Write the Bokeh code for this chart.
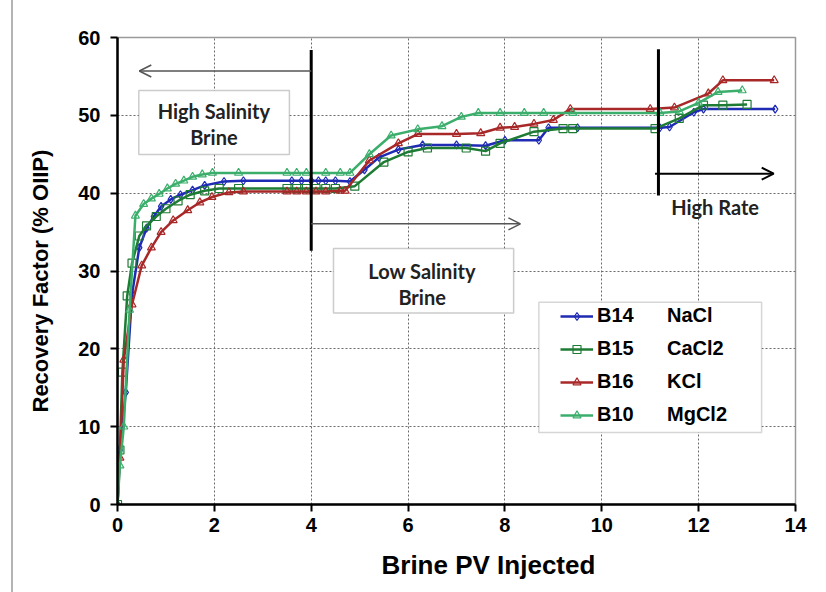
from bokeh.plotting import figure
from bokeh.models import (Range1d, Legend, LegendItem, Label, Arrow, OpenHead,
                          BoxAnnotation, FixedTicker, Title)
from bokeh.embed import file_html
from bokeh.resources import INLINE

# ---- data ----
x_ticks = [0, 2, 4, 6, 8, 10, 12, 14]
y_ticks = [0, 10, 20, 30, 40, 50, 60]

b14_x = [0, 0.05, 0.17, 0.3, 0.45, 0.6, 0.75, 0.9, 1.1, 1.3, 1.55, 1.8, 2.2, 2.6, 3.6, 3.8,
         4.0, 4.15, 4.3, 4.5, 4.8, 5.1, 5.4, 5.8, 6.3, 7.0, 7.6, 8.0, 8.7, 8.9, 9.5, 11.2,
         11.4, 11.9, 12.1, 13.58]
b14_y = [0, 7, 14.4, 27, 33, 35.5, 37, 38.3, 39.2, 39.8, 40.4, 41.0, 41.5, 41.6, 41.6, 41.6,
         41.6, 41.6, 41.6, 41.6, 41.5, 43.0, 44.6, 45.6, 46.2, 46.2, 46.1, 46.8, 46.8, 48.4, 48.4, 48.4,
         48.5, 50.4, 50.8, 50.8]

b15_x = [0, 0.05, 0.1, 0.2, 0.3, 0.45, 0.6, 0.8, 1.0, 1.25, 1.5, 1.8, 2.1, 2.5, 3.5, 3.7,
         3.9, 4.1, 4.3, 4.5, 4.9, 5.5, 6.0, 6.4, 7.2, 7.6, 7.9, 8.6, 9.2, 9.4, 11.1, 11.6,
         12.1, 12.5, 13.0]
b15_y = [0, 7, 17, 26.8, 31, 34.5, 35.8, 37, 38, 39, 39.8, 40.3, 40.6, 40.6, 40.6, 40.6,
         40.6, 40.6, 40.6, 40.6, 40.9, 44.0, 45.3, 45.8, 45.8, 45.4, 46.4, 47.9, 48.3, 48.3, 48.3, 49.6,
         51.3, 51.3, 51.4]

b16_x = [0, 0.05, 0.13, 0.3, 0.5, 0.7, 0.9, 1.15, 1.45, 1.7, 1.95, 2.3, 2.6, 3.5, 3.7, 3.9,
         4.1, 4.3, 4.6, 4.7, 5.2, 5.8, 6.2, 7.0, 7.5, 7.9, 8.2, 8.6, 9.0, 9.35, 11.0, 11.5,
         12.2, 12.5, 13.56]
b16_y = [0, 6, 18.6, 25.7, 30.7, 33, 35, 36.5, 37.8, 38.8, 39.5, 40.1, 40.2, 40.2, 40.2, 40.2,
         40.2, 40.2, 40.3, 40.3, 44.2, 46.4, 47.6, 47.6, 47.7, 48.4, 48.5, 48.9, 49.4, 50.8, 50.8, 51.0,
         52.8, 54.5, 54.5]

b10_x = [0, 0.05, 0.13, 0.25, 0.37, 0.54, 0.7, 0.86, 1.03, 1.2, 1.37, 1.55, 1.75, 1.96, 2.5,
         3.5, 3.7, 3.9, 4.3, 4.6, 4.8, 5.2, 5.65, 6.2, 6.7, 7.1, 7.45, 7.9, 8.4, 8.8, 9.4,
         11.2, 11.6, 12.0, 12.4, 12.9]
b10_y = [0, 5, 10, 25, 37.1, 38.6, 39.3, 39.9, 40.6, 41.2, 41.6, 42.1, 42.4, 42.6, 42.6,
         42.6, 42.6, 42.6, 42.6, 42.6, 42.6, 45.0, 47.4, 48.2, 48.6, 49.8, 50.3, 50.3, 50.3, 50.3, 50.3,
         50.3, 50.5, 51.6, 53.0, 53.2]

series_names = ["B14", "B15", "B16", "B10"]
salts = ["NaCl", "CaCl2", "KCl", "MgCl2"]

# ---- figure ----
p = figure(width=826, height=592, output_backend="svg", toolbar_location=None,
           x_range=Range1d(0, 14), y_range=Range1d(0, 60),
           min_border_left=117, min_border_right=31, min_border_top=37, min_border_bottom=88)
p.background_fill_color = "white"
p.border_fill_color = None
# thin grey edge of the pasted chart image, drawn behind the transparent canvas border
p.styles = {"background-color": "white",
            "background-image": "linear-gradient(#b4b4b4, #b4b4b4)",
            "background-size": "2px 592px",
            "background-position": "11px 0px",
            "background-repeat": "no-repeat"}
p.outline_line_color = "#9a9a9a"
p.outline_line_width = 1.5

p.xaxis.ticker = FixedTicker(ticks=x_ticks)
p.yaxis.ticker = FixedTicker(ticks=y_ticks)
for ax in (p.xaxis[0], p.yaxis[0]):
    ax.axis_line_color = "black"
    ax.axis_line_width = 2.5
    ax.major_tick_line_color = "black"
    ax.major_tick_line_width = 2
    ax.major_tick_out = 7
    ax.major_tick_in = 0
    ax.minor_tick_line_color = None
    ax.major_label_text_font = "Liberation Sans"
    ax.major_label_text_font_style = "bold"
    ax.major_label_text_font_size = "20px"
    ax.major_label_text_color = "black"
p.xaxis.major_label_standoff = 6
p.yaxis.major_label_standoff = 10

for g in (p.xgrid[0], p.ygrid[0]):
    g.grid_line_color = "#6a6a6a"
    g.grid_line_dash = "2 2"
    g.grid_line_width = 1

# ---- axis titles (placed as in the reference, slightly off-centre) ----
p.add_layout(Title(text="Brine PV Injected", align="left", offset=264, standoff=26,
                   text_font="Liberation Sans", text_font_style="bold",
                   text_font_size="26px", text_color="black"), "below")
p.add_layout(Title(text="Recovery Factor (% OIIP)", align="left", offset=92, standoff=46,
                   text_font="Liberation Sans", text_font_style="bold",
                   text_font_size="22px", text_color="black"), "left")

# ---- annotation boxes ----
box_style = dict(fill_color="white", fill_alpha=1, line_color="#555555", line_width=1.5)
p.add_layout(BoxAnnotation(left=0.44, right=3.55, bottom=44.98, top=53.2, **box_style))
p.add_layout(BoxAnnotation(left=4.46, right=8.18, bottom=24.6, top=32.9, **box_style))
p.add_layout(BoxAnnotation(left=8.70, right=13.30, bottom=9.24, top=25.97,
                           fill_color="white", fill_alpha=1, line_color="#777777", line_width=1.5))

# ---- series ----
colors = ["#1f2ab5", "#1e7b34", "#a82828", "#3cae6c"]
markers = ["diamond", "square", "triangle", "triangle"]
xs = [b14_x, b15_x, b16_x, b10_x]
ys = [b14_y, b15_y, b16_y, b10_y]
items = []
for name, salt, c, m, x, y in zip(series_names, salts, colors, markers, xs, ys):
    ln = p.line(x, y, line_color=c, line_width=2.5)
    sc = p.scatter(x, y, marker=m, size=8, line_color=c, fill_color="white",
                   fill_alpha=0.0, line_width=1.2)
    label = name + "\u00a0" * 6 + salt
    items.append(LegendItem(label=label, renderers=[ln, sc]))

legend = Legend(items=items, location=(438, 73))
legend.label_text_font = "Liberation Sans"
legend.label_text_font_style = "bold"
legend.label_text_font_size = "20px"
legend.label_text_color = "black"
legend.glyph_width = 33
legend.glyph_height = 20
legend.label_height = 20
legend.spacing = 10
legend.padding = 5
legend.margin = 0
legend.label_standoff = 4
legend.border_line_alpha = 0
legend.background_fill_alpha = 0
p.add_layout(legend)

# ---- vertical divider lines ----
p.segment(x0=[4, 11.17], y0=[32.6, 39.7], x1=[4, 11.17], y1=[58.4, 58.5],
          line_color="black", line_width=3)

# ---- arrows ----
p.add_layout(Arrow(end=OpenHead(size=12, line_color="#555555", line_width=1.5),
                   x_start=4, y_start=55.7, x_end=0.45, y_end=55.7,
                   line_color="#555555", line_width=1.5))
p.add_layout(Arrow(end=OpenHead(size=12, line_color="#555555", line_width=1.5),
                   x_start=4, y_start=36.06, x_end=8.32, y_end=36.06,
                   line_color="#555555", line_width=1.5))
p.add_layout(Arrow(end=OpenHead(size=12, line_color="black", line_width=2),
                   x_start=11.1, y_start=42.5, x_end=13.55, y_end=42.5,
                   line_color="black", line_width=2))

# ---- text labels ----
lbl = dict(text_font="Lato", text_font_style="bold", text_font_size="20px",
           text_color="#222222", text_align="center", text_baseline="middle")
p.add_layout(Label(x=1.99, y=50.6, text="High Salinity", **lbl))
p.add_layout(Label(x=1.99, y=47.2, text="Brine", **lbl))
p.add_layout(Label(x=6.29, y=30.05, text="Low Salinity", **lbl))
p.add_layout(Label(x=6.29, y=26.6, text="Brine", **lbl))
p.add_layout(Label(x=12.34, y=38.2, text="High Rate", **lbl))

open("out.html", "w").write(file_html(p, INLINE))
